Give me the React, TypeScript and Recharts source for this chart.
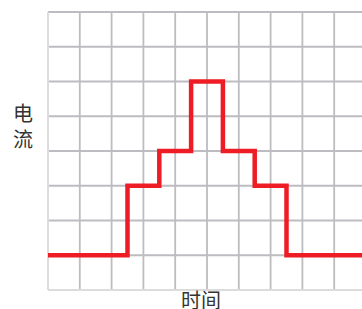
import { LineChart, CartesianGrid, XAxis, YAxis, Line, ReferenceLine } from "recharts";

// step positions along the time axis (grid units) and current level
const times = [0, 2.5, 3.5, 4.5, 5.5, 6.5, 7.5, 10];
const current = [1, 3, 4, 6, 4, 3, 1, 1];
const xTicks = [0, 1, 2, 3, 4, 5, 6, 7, 8, 9, 10];
const yTicks = [0, 1, 2, 3, 4, 5, 6, 7, 8];
const yLabel = ["电", "流"];
const xLabel = "时间";

const data = times.map((t, i) => ({ t, v: current[i] }));

const textStyle = {
    position: "absolute" as const,
    fontFamily: "'Noto Sans CJK SC', sans-serif",
    fontSize: 20,
    lineHeight: "20px",
    color: "#333",
    textAlign: "center" as const,
};

const App = () => {
    return (
        <div
            style={{
                position: "absolute",
                left: 0,
                top: 0,
                width: 362,
                height: 309,
                overflow: "hidden",
                background: "#fff",
            }}
        >
            <LineChart
                width={370}
                height={309}
                data={data}
                margin={{ top: 12, right: 4, left: 48, bottom: 19 }}
            >
                <CartesianGrid stroke="#bdbdc1" strokeWidth={1.8} />
                <XAxis
                    dataKey="t"
                    type="number"
                    domain={[0, 10]}
                    ticks={xTicks}
                    hide
                />
                <YAxis type="number" domain={[0, 8]} ticks={yTicks} hide />
                <ReferenceLine x={0} stroke="#dcdcdc" strokeWidth={2} />
                <ReferenceLine y={0} stroke="#dcdcdc" strokeWidth={2} />
                <Line
                    type="stepAfter"
                    dataKey="v"
                    stroke="#ee1c25"
                    strokeWidth={4.5}
                    dot={false}
                    isAnimationActive={false}
                />
            </LineChart>
            {yLabel.map((ch, i) => (
                <div key={ch} style={{ ...textStyle, left: 8, top: 103 + i * 25.5, width: 30 }}>
                    {ch}
                </div>
            ))}
            <div style={{ ...textStyle, left: 171, top: 290, width: 60, lineHeight: "19px" }}>
                {xLabel}
            </div>
        </div>
    );
};

export default App;
